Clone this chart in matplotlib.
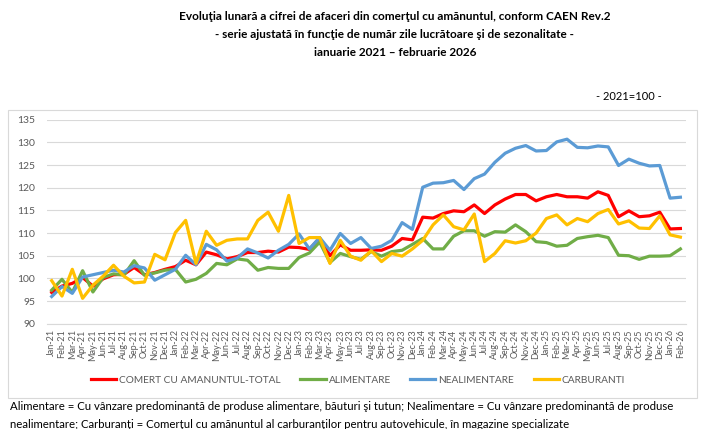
import matplotlib
matplotlib.use('Agg')
import matplotlib.pyplot as plt
from matplotlib.patches import Rectangle

plt.rcParams['font.family'] = ['Lato', 'DejaVu Sans']

# luni ianuarie 2021 - februarie 2026
luni = ['Jan', 'Feb', 'Mar', 'Apr', 'May', 'Jun', 'Jul', 'Aug', 'Sep', 'Oct', 'Nov', 'Dec']
etichete = [f'{m}-{a}' for a in range(21, 27) for m in luni][:62]

total = [96.9, 98.3, 98.9, 100.2, 98.3, 99.9, 100.8, 100.9, 102.4, 100.8, 101.3, 102.0,
         102.6, 104.0, 103.0, 105.8, 105.2, 104.3, 104.8, 105.7, 105.7, 106.0, 105.8, 106.9,
         106.8, 106.4, 108.9, 105.0, 107.4, 106.2, 106.2, 106.3, 106.2, 107.1, 108.8, 108.5,
         113.5, 113.3, 114.3, 114.9, 114.7, 116.2, 114.3, 116.2, 117.5, 118.5, 118.5, 117.1,
         118.0, 118.5, 118.0, 118.0, 117.7, 119.1, 118.3, 113.6, 114.9, 113.6, 113.8, 114.6,
         110.9, 111.0]
alimentare = [97.4, 99.8, 96.9, 101.7, 97.0, 100.2, 101.0, 100.7, 103.9, 100.7, 101.2, 101.8,
              102.0, 99.2, 99.8, 101.1, 103.3, 103.0, 104.3, 104.0, 101.8, 102.4, 102.2, 102.2,
              104.6, 105.6, 108.0, 103.5, 105.5, 104.8, 104.2, 105.9, 104.9, 105.9, 106.2, 107.5,
              108.8, 106.5, 106.5, 109.3, 110.5, 110.5, 109.3, 110.3, 110.2, 111.8, 110.3, 108.1,
              107.9, 107.1, 107.3, 108.8, 109.2, 109.5, 109.0, 105.1, 105.0, 104.2, 104.9, 104.9,
              105.0, 106.5]
nealimentare = [96.0, 98.2, 96.7, 100.3, 100.8, 101.3, 101.8, 101.4, 102.8, 102.3, 99.6, 100.8,
                102.0, 105.1, 103.0, 107.5, 106.3, 103.8, 104.5, 106.5, 105.6, 104.5, 106.2, 107.5,
                109.8, 106.5, 109.0, 106.2, 109.9, 107.7, 109.0, 106.6, 107.1, 108.4, 112.3, 110.8,
                120.1, 121.0, 121.1, 121.6, 119.6, 122.0, 123.0, 125.6, 127.6, 128.7, 129.3, 128.1,
                128.2, 130.1, 130.7, 128.9, 128.8, 129.2, 129.0, 124.9, 126.3, 125.4, 124.8, 124.9,
                117.7, 117.9]
carburanti = [99.5, 96.1, 102.0, 95.6, 98.5, 100.5, 102.9, 100.5, 99.0, 99.2, 105.3, 104.1,
              110.1, 112.8, 103.3, 110.4, 107.3, 108.4, 108.7, 108.7, 112.8, 114.6, 110.4, 118.3,
              107.7, 109.0, 109.0, 103.3, 108.4, 104.9, 104.0, 106.1, 103.7, 105.5, 104.9, 106.5,
              108.4, 111.8, 114.0, 111.4, 110.7, 114.2, 103.7, 105.5, 108.3, 107.8, 108.3, 110.0,
              113.2, 114.0, 111.8, 113.2, 112.5, 114.3, 115.2, 112.0, 112.7, 111.1, 111.0, 113.8,
              109.6, 109.1]

fig = plt.figure(figsize=(7.05, 4.29), dpi=100)
ax = fig.add_axes([0.066, 0.2454, 0.9064, 0.4756])

# chenarul graficului
fig.patches.append(Rectangle((8 / 705, 1 - 398 / 429), 689 / 705, 288 / 429,
                             transform=fig.transFigure, fill=False,
                             edgecolor='#d9d9d9', linewidth=0.8))

x = range(len(etichete))
lw = 2.3
ax.plot(x, total, color='#ff0000', lw=lw, label='COMERT CU AMANUNTUL-TOTAL')
ax.plot(x, alimentare, color='#70ad47', lw=lw, label='ALIMENTARE')
ax.plot(x, nealimentare, color='#5b9bd5', lw=lw, label='NEALIMENTARE')
ax.plot(x, carburanti, color='#ffc000', lw=lw, label='CARBURANTI')

ax.set_xlim(-0.5, len(etichete) - 0.5)
ax.set_ylim(90, 135)
ax.set_yticks(range(90, 136, 5))
ax.set_xticks(list(x))
ax.set_xticklabels(etichete, rotation=90, fontsize=6.5, color='#595959')
ax.tick_params(axis='y', labelsize=7.5, colors='#595959', length=0, pad=8)
ax.tick_params(axis='x', length=0, pad=4)
ax.grid(axis='y', color='#d9d9d9', lw=0.8)
ax.set_axisbelow(True)
for s in ['top', 'right', 'left']:
    ax.spines[s].set_visible(False)
ax.spines['bottom'].set_color('#d9d9d9')

fig.legend(loc='center', bbox_to_anchor=(0.508, 1 - 380 / 429), ncol=4, frameon=False,
           fontsize=7.3, handlelength=2.5, handletextpad=0.3, columnspacing=1.9,
           labelcolor='#595959')

fig.text(0.56, 1 - 17 / 429, 'Evoluţia lunară a cifrei de afaceri din comerţul cu amănuntul, conform CAEN Rev.2',
         ha='center', va='center', fontsize=8.5, fontweight='bold')
fig.text(0.56, 1 - 35 / 429, '- serie ajustată în funcţie de număr zile lucrătoare şi de sezonalitate -',
         ha='center', va='center', fontsize=8.5, fontweight='bold')
fig.text(0.56, 1 - 53 / 429, 'ianuarie 2021 – februarie 2026',
         ha='center', va='center', fontsize=8.5, fontweight='bold')
fig.text(662 / 705, 1 - 97 / 429, '- 2021=100 -', ha='right', va='center', fontsize=8)

fig.text(10 / 705, 1 - 407 / 429,
         'Alimentare = Cu vânzare predominantă de produse alimentare, băuturi şi tutun; '
         'Nealimentare = Cu vânzare predominantă de produse',
         ha='left', va='center', fontsize=8.2)
fig.text(10 / 705, 1 - 424 / 429,
         'nealimentare; Carburanţi = Comerţul cu amănuntul al carburanţilor pentru autovehicule, '
         'în magazine specializate',
         ha='left', va='center', fontsize=8.2)

fig.savefig('out.png', dpi=100)
